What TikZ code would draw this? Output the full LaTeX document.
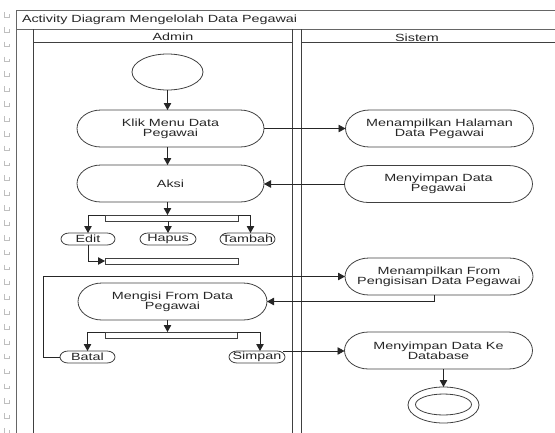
\documentclass[tikz,border=0pt]{standalone}
\usepackage{fontspec}
\setmainfont{Liberation Sans}[FakeStretch=1.38]
\usetikzlibrary{arrows.meta,shapes.geometric}
\tikzset{
  txt/.style={font=\fontsize{10.4}{10}\selectfont, text=black!85, align=center, inner sep=0pt, outer sep=0pt},
  act/.style={txt, minimum height=37pt},
  smallact/.style={txt, minimum height=12pt},
  bar/.style={draw=black!75, fill=white, line width=0.8pt, minimum height=6pt, inner sep=0pt, outer sep=0pt},
  shapeline/.style={draw=black!75, line width=0.8pt},
  arr/.style={draw=black!85, line width=0.8pt, -{Triangle[length=7pt,width=7.5pt]}},
  frameline/.style={draw=black!60, line width=0.9pt},
  laneline/.style={draw=black!75, line width=0.9pt},
  gut/.style={draw=black!25, line width=0.7pt}
}
\begin{document}
\begin{tikzpicture}[x=1pt,y=1pt]
\useasboundingbox (0,0) rectangle (555,-432);
\clip (0,0) rectangle (555,-432);
% gutter marks
\foreach \k in {0,...,28} {
  \draw[gut] (4,{-12-14.86*\k}) -- (4,{-17-14.86*\k}) -- (9,{-17-14.86*\k}) -- (9,{-14-14.86*\k});
}
% frame and lanes
\draw[frameline] (16,-10) rectangle (570,-450);
\draw[frameline] (16,-29) -- (570,-29);
\node[txt, anchor=base west] (title) at (22,-22.5) {Activity Diagram Mengelolah Data Pegawai};
\draw[laneline] (33,-29) -- (33,-450);
\draw[laneline] (292,-29) -- (292,-450);
\draw[laneline] (301,-29) -- (301,-450);
\draw[laneline] (33,-42) -- (292,-42);
\draw[laneline] (301,-42) -- (570,-42);
\node[txt, anchor=base] (admin) at (173,-40.7) {Admin};
\node[txt, anchor=base] (sistem) at (417,-41.2) {Sistem};

% start node
\node[draw=black!75, line width=0.8pt, ellipse, minimum width=71pt, minimum height=36pt, inner sep=0pt, outer sep=0pt] (start) at (167.5,-72) {};

% admin activities
\node[act, minimum width=187pt] (klik) at (170.5,-128.5) {Klik Menu Data\\Pegawai};
\node[act, minimum width=187pt] (aksi) at (170.5,-183.5) {Aksi};
\node[act, minimum width=189pt] (mengisi) at (172.5,-301.5) {Mengisi From Data\\Pegawai};

% sistem activities
\node[act, minimum width=188pt] (menhal) at (439.5,-128.5) {Menampilkan Halaman\\Data Pegawai};
\node[act, minimum width=188pt] (menyd) at (438.5,-184) {Menyimpan Data\\Pegawai};
\node[act, minimum width=188pt] (menfrom) at (439,-276.5) {Menampilkan From\\Pengisisan Data Pegawai};
\node[act, minimum width=188pt] (mdb) at (438.5,-350.5) {Menyimpan Data Ke\\Database};

\foreach \n in {klik,aksi,mengisi,menhal,menyd,menfrom,mdb} {
  \draw[shapeline] ([xshift=24pt]\n.north west) -- ([xshift=-24pt]\n.north east)
    arc[start angle=90,end angle=-90,x radius=24pt,y radius=18.5pt]
    -- ([xshift=24pt]\n.south west)
    arc[start angle=270,end angle=90,x radius=24pt,y radius=18.5pt] -- cycle;
}

% small actions
\node[smallact, minimum width=54pt] (edit) at (88,-239) {Edit};
\node[smallact, minimum width=56pt] (hapus) at (168,-239) {Hapus};
\node[smallact, minimum width=55pt] (tambah) at (247.5,-239) {Tambah};
\node[smallact, minimum width=55pt] (batal) at (87.5,-357) {Batal};
\node[smallact, minimum width=56pt] (simpan) at (257,-357) {Simpan};
\foreach \n in {edit,hapus,tambah,batal,simpan} {
  \draw[shapeline] ([xshift=8pt]\n.north west) -- ([xshift=-8pt]\n.north east)
    arc[start angle=90,end angle=-90,x radius=8pt,y radius=6pt]
    -- ([xshift=8pt]\n.south west)
    arc[start angle=270,end angle=90,x radius=8pt,y radius=6pt] -- cycle;
}

% bars
\node[bar, minimum width=133pt] (fork1) at (171.5,-218) {};
\node[bar, minimum width=133pt] (join1) at (171.5,-261) {};
\node[bar, minimum width=132pt] (fork2) at (171,-335) {};

% end node
\node[draw=black!75, line width=0.8pt, ellipse, minimum width=71pt, minimum height=36pt, inner sep=0pt, outer sep=0pt] (endo) at (443.5,-405) {};
\node[draw=black!75, line width=0.8pt, ellipse, minimum width=56pt, minimum height=21pt, inner sep=0pt, outer sep=0pt] (endi) at (443.5,-404.5) {};

% connectors
\draw[arr] (start.south) -- (start.south |- klik.north);
\draw[arr] (klik.south -| start.south) -- (aksi.north -| start.south);
\draw[arr] (klik.east) -- (menhal.west);
\draw[arr] (menyd.west) -- (aksi.east |- menyd.west);
\draw[arr] (aksi.south -| start.south) -- (fork1.north -| start.south);
\draw[arr] (fork1.north west) -| (edit.north);
\draw[arr] (fork1.north east) -| ([xshift=3pt]tambah.north);
\draw[arr] (fork1.south -| hapus.north) -- (hapus.north);
\draw[arr] (edit.south) |- (join1.west);
\draw[arr] (batal.west) -- ++(-17pt,0) |- (menfrom.west);
\draw[arr] ([xshift=-5pt]menfrom.south) |- (mengisi.east);
\draw[arr] (mengisi.south -| start.south) -- (fork2.north -| start.south);
\draw[arr] (fork2.north west) -| (batal.north);
\draw[arr] (fork2.north east) -| ([xshift=3pt]simpan.north);
\draw[arr] ([xshift=-2pt]simpan.north east) -- (simpan.north east -| mdb.west);
\draw[arr] (mdb.south -| endo.north) -- (endo.north);
\end{tikzpicture}
\end{document}
